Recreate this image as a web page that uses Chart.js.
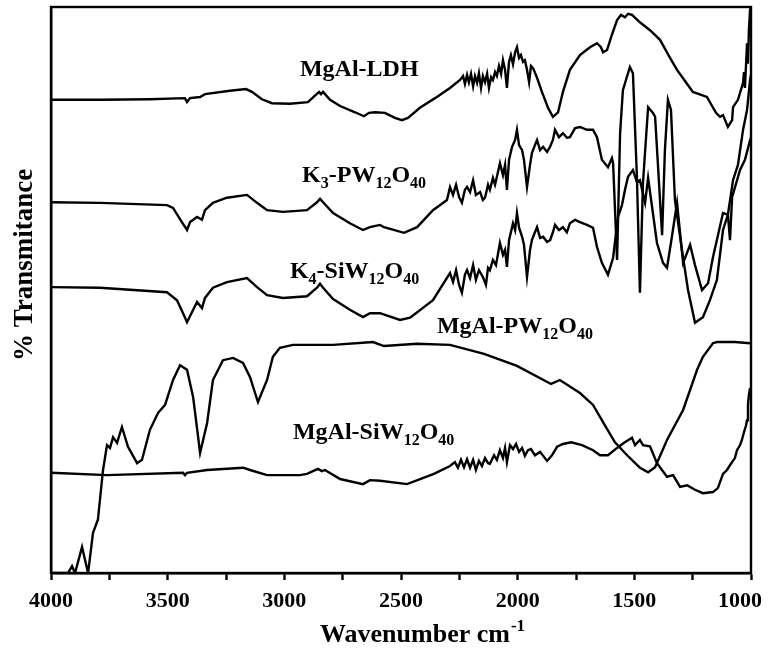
<!DOCTYPE html>
<html>
<head>
<meta charset="utf-8">
<script src="https://cdn.jsdelivr.net/npm/chart.js@4.4.0/dist/chart.umd.min.js"></script>
<style>
  html, body { margin: 0; padding: 0; background: #fff; }
  #wrap { width: 768px; height: 648px; }
</style>
</head>
<body>
<div id="wrap"><canvas id="ftir"></canvas></div>
<script>
// wavenumbers (cm-1) and transmittance (arbitrary units)
const ldhWave = [4000,3790,3576,3426,3417,3404,3361,3340,3233,3164,3139,3096,3053,2976,2899,2864,2851,2843,2834,2804,2761,2697,2659,2637,2611,2569,2526,2496,2470,2419,2354,2290,2269,2247,2234,2226,2217,2209,2200,2191,2183,2174,2166,2157,2149,2140,2131,2123,2114,2106,2097,2089,2080,2071,2063,2054,2046,2037,2029,2020,2011,2003,1994,1986,1977,1969,1960,1951,1943,1934,1917,1896,1870,1849,1827,1806,1776,1733,1690,1660,1643,1634,1617,1596,1574,1557,1540,1527,1510,1476,1433,1390,1347,1317,1279,1249,1189,1150,1133,1120,1099,1081,1077,1056,1034,1030,1026,1017,1013,1009,1004,1000];
const ldhT    = [83.6,83.6,83.7,83.9,83.2,83.9,84.1,84.6,85.2,85.5,85.0,83.7,83.0,82.9,83.2,84.5,85.0,84.6,85.0,83.6,82.5,81.4,80.7,81.3,81.4,81.3,80.4,80.0,80.4,82.2,83.9,85.7,86.4,87.1,87.8,86.4,88.0,86.7,88.2,86.0,87.8,86.6,88.3,85.7,87.8,86.7,88.2,85.7,87.6,87.1,88.5,87.8,89.6,88.2,90.6,88.9,85.7,90.3,91.5,89.9,92.0,92.9,91.0,91.5,90.3,90.6,88.9,86.7,89.6,89.2,87.5,85.0,82.2,80.6,81.4,85.0,88.9,91.5,92.9,93.6,92.9,92.0,92.4,95.1,97.7,98.6,98.2,98.8,98.6,97.3,95.9,94.2,91.0,88.9,86.7,85.0,84.1,81.3,80.6,80.9,78.8,80.0,82.3,83.6,86.6,88.5,85.7,93.6,90.0,95.9,99.5,100];

const k3Wave = [4000,3790,3503,3477,3439,3417,3404,3374,3353,3340,3306,3246,3160,3117,3074,3006,2903,2860,2847,2834,2791,2719,2663,2633,2590,2573,2487,2431,2363,2303,2290,2277,2264,2251,2239,2226,2217,2204,2191,2179,2161,2149,2140,2127,2119,2106,2097,2089,2076,2063,2054,2046,2037,2024,2011,2003,1994,1981,1973,1960,1947,1939,1926,1917,1904,1891,1874,1861,1849,1840,1823,1806,1789,1776,1754,1733,1703,1677,1660,1639,1613,1596,1591,1574,1561,1549,1519,1506,1489,1476,1463,1441,1420,1411,1381,1369,1356,1343,1326,1296,1270,1240,1206,1176,1146,1120,1099,1077,1056,1034,1017,1004,1000];
const k3T    = [65.5,65.4,65.0,64.5,62.0,60.6,62.0,62.9,62.4,64.1,65.4,66.3,66.8,65.4,64.1,63.8,64.1,65.5,66.1,65.5,63.6,61.8,60.6,61.1,61.5,61.1,60.1,61.1,64.1,65.9,68.2,66.8,68.6,66.4,65.4,67.7,68.2,67.3,69.4,66.8,67.3,65.9,66.3,68.6,67.7,69.8,68.6,70.0,72.4,70.3,72.1,67.7,73.0,75.3,76.5,78.3,75.6,74.7,73.0,68.2,72.1,74.2,75.6,76.5,74.7,75.3,74.4,75.3,76.5,78.3,77.0,77.7,76.9,77.0,78.6,78.8,78.3,78.3,77.0,73.0,71.7,73.3,72.4,55.3,77.7,85.3,89.4,88.3,70.0,49.5,68.9,82.3,81.3,80.6,59.7,74.7,83.6,81.8,65.9,57.1,50.0,44.2,45.2,48.2,51.8,60.6,63.3,69.4,72.1,78.3,81.8,87.1,88.0];

const k4Wave = [4000,3790,3503,3460,3434,3417,3404,3374,3353,3340,3306,3246,3160,3117,3074,3006,2903,2860,2847,2834,2791,2719,2663,2633,2590,2504,2461,2363,2290,2277,2264,2251,2239,2226,2217,2204,2191,2179,2166,2149,2136,2127,2119,2106,2093,2076,2063,2054,2046,2037,2020,2011,2003,1994,1981,1973,1960,1947,1939,1926,1917,1904,1891,1874,1861,1849,1840,1823,1806,1789,1776,1754,1733,1703,1677,1660,1639,1613,1591,1570,1553,1540,1527,1506,1489,1476,1454,1441,1424,1403,1377,1360,1339,1317,1291,1261,1240,1210,1184,1163,1120,1099,1090,1081,1047,1026,1004,1000];
const k4T    = [50.5,50.4,49.6,48.2,45.9,44.3,45.4,47.9,46.8,48.6,50.4,51.4,52.1,50.5,49.1,48.6,48.9,50.4,51.1,50.4,48.4,46.5,45.2,45.9,45.9,44.7,45.1,48.2,53.0,51.4,53.5,50.9,49.5,52.7,53.5,52.1,54.4,51.8,53.5,52.3,50.9,53.9,53.5,55.3,54.4,58.3,56.2,57.1,54.1,58.8,61.8,60.6,63.6,61.0,59.4,58.0,52.3,57.1,58.8,60.2,61.1,59.2,59.4,58.5,58.8,60.2,61.5,60.6,61.1,60.2,61.8,62.4,62.0,61.5,61.0,57.6,54.8,52.7,55.7,62.9,65.0,67.7,70.0,71.2,69.1,69.4,65.4,69.8,64.7,58.3,54.8,53.9,59.4,65.4,54.8,58.0,54.4,50.0,51.2,55.8,63.6,63.3,58.8,66.4,71.2,73.0,76.5,76.9];

const pwWave = [4000,3927,3910,3897,3867,3841,3820,3799,3777,3760,3747,3734,3717,3696,3670,3631,3610,3576,3541,3511,3477,3447,3417,3391,3361,3331,3306,3263,3220,3177,3147,3113,3074,3049,3019,2963,2791,2620,2573,2431,2290,2144,2003,1857,1819,1733,1677,1626,1583,1531,1476,1441,1411,1360,1291,1231,1206,1163,1146,1069,1004,1000];
const pwT    = [0,0,1.2,0,4.6,0,7.1,9.4,18.2,22.6,22.1,24.0,23.0,25.8,22.3,19.4,20.0,25.3,28.3,29.7,34.1,36.7,35.9,31.1,21.2,26.5,34.1,37.6,38.0,37.1,34.6,30.2,34.1,38.2,39.8,40.3,40.3,40.8,40.1,40.5,40.3,38.7,36.6,33.4,34.1,31.8,29.7,26.1,23.1,20.8,18.6,17.8,18.7,23.5,28.8,35.9,38.2,40.6,40.8,40.8,40.6,40.6];

const siwWave = [4000,3760,3434,3426,3417,3331,3177,3147,3074,2933,2903,2856,2839,2826,2761,2663,2633,2590,2474,2359,2290,2269,2256,2243,2230,2217,2204,2191,2179,2166,2153,2140,2127,2119,2101,2089,2076,2063,2054,2046,2033,2020,2007,1994,1981,1969,1956,1943,1926,1904,1874,1853,1831,1806,1771,1724,1677,1647,1613,1574,1544,1510,1497,1476,1463,1433,1403,1360,1334,1304,1274,1240,1206,1163,1142,1120,1103,1086,1069,1060,1047,1039,1030,1021,1017,1013,1009,1004];
const siwT    = [17.7,17.3,17.7,17.3,17.7,18.2,18.6,18.2,17.3,17.3,17.5,18.4,18.0,18.2,16.6,15.7,16.4,16.3,15.7,17.5,18.9,19.6,18.6,20.0,18.7,20.1,18.6,20.0,18.2,19.8,18.9,20.3,19.4,19.3,20.8,20.0,21.7,20.3,22.1,19.6,22.6,21.9,22.8,21.4,22.1,20.7,21.7,21.9,20.8,21.4,19.8,20.8,22.3,22.8,23.1,22.6,21.7,20.8,20.8,22.1,23.0,23.9,22.6,23.5,22.6,22.4,19.4,17.0,17.3,15.2,15.5,14.7,14.1,14.3,15.0,17.5,18.2,19.3,20.3,21.7,22.6,23.5,24.9,26.1,27.0,29.7,31.4,32.7];

const xTicks = [4000, 3500, 3000, 2500, 2000, 1500, 1000];

function pts(w, t) { return w.map((x, i) => ({ x: x, y: t[i] })); }

const serif = '"Liberation Serif", "Times New Roman", serif';

function line(label, w, t) {
  return {
    label: label,
    data: pts(w, t),
    borderColor: '#000',
    borderWidth: 2.4,
    pointRadius: 0,
    tension: 0,
    fill: false
  };
}

// curve names with subscripts: [text, isSub]
const curveLabels = [
  { at: [2933, 87.8], parts: [['MgAl-LDH', 0]] },
  { at: [2924, 69.1], parts: [['K', 0], ['3', 1], ['-PW', 0], ['12', 1], ['O', 0], ['40', 1]] },
  { at: [2976, 52.1], parts: [['K', 0], ['4', 1], ['-SiW', 0], ['12', 1], ['O', 0], ['40', 1]] },
  { at: [2346, 42.4], parts: [['MgAl-PW', 0], ['12', 1], ['O', 0], ['40', 1]] },
  { at: [2963, 23.7], parts: [['MgAl-SiW', 0], ['12', 1], ['O', 0], ['40', 1]] }
];

const decor = {
  id: 'decor',
  afterDraw(chart) {
    const ctx = chart.ctx;
    const a = chart.chartArea;
    const xs = chart.scales.x, ys = chart.scales.y;
    ctx.save();
    ctx.strokeStyle = '#000';
    ctx.lineWidth = 2.4;
    ctx.strokeRect(a.left, a.top, a.right - a.left, a.bottom - a.top);

    ctx.fillStyle = '#000';
    ctx.textBaseline = 'alphabetic';
    ctx.textAlign = 'left';
    curveLabels.forEach(l => {
      let px = xs.getPixelForValue(l.at[0]);
      const py = ys.getPixelForValue(l.at[1]);
      l.parts.forEach(p => {
        ctx.font = p[1] ? 'bold 16px ' + serif : 'bold 24px ' + serif;
        ctx.fillText(p[0], px, p[1] ? py + 6 : py);
        px += ctx.measureText(p[0]).width;
      });
    });

    // axis titles
    ctx.font = 'bold 26px ' + serif;
    const t1 = 'Wavenumber cm';
    const tx = a.left + 269;
    const ty = a.bottom + 69;
    ctx.fillText(t1, tx, ty);
    const tw = ctx.measureText(t1).width;
    ctx.font = 'bold 17px ' + serif;
    ctx.fillText('-1', tx + tw + 1, ty - 11);

    ctx.translate(a.left - 19, a.bottom - 212);
    ctx.rotate(-Math.PI / 2);
    ctx.font = 'bold 27px ' + serif;
    ctx.fillText('% Transmitance', 0, 0);
    ctx.restore();
  }
};

new Chart(document.getElementById('ftir'), {
  type: 'line',
  data: {
    datasets: [
      line('MgAl-LDH', ldhWave, ldhT),
      line('K3-PW12O40', k3Wave, k3T),
      line('K4-SiW12O40', k4Wave, k4T),
      line('MgAl-PW12O40', pwWave, pwT),
      line('MgAl-SiW12O40', siwWave, siwT)
    ]
  },
  options: {
    responsive: true,
    maintainAspectRatio: false,
    animation: false,
    layout: { padding: { top: 7, right: 17, left: 0, bottom: 0 } },
    plugins: { legend: { display: false }, tooltip: { enabled: false } },
    scales: {
      x: {
        type: 'linear',
        reverse: true,
        min: 1000,
        max: 4000,
        afterFit(s) { s.height = 75; s.paddingLeft = 0; s.paddingRight = 0; },
        afterBuildTicks(s) {
          const t = [];
          for (let v = 4000; v >= 1000; v -= 250) t.push({ value: v });
          s.ticks = t;
        },
        ticks: {
          autoSkip: false,
          maxRotation: 0,
          padding: 8,
          color: '#000',
          font: { family: serif, size: 22, weight: 'bold' },
          // last label is nudged left so it stays inside the canvas
          callback: v => (v === 1000 ? '1000\u2007\u2007' : xTicks.includes(v) ? String(v) : '')
        },
        grid: {
          display: true,
          drawOnChartArea: false,
          drawTicks: true,
          tickLength: 7,
          tickWidth: 2.4,
          tickColor: '#000'
        },
        border: { display: true, color: '#000', width: 2.4 }
      },
      y: {
        min: 0,
        max: 100,
        afterFit(s) { s.width = 51; },
        ticks: { display: false },
        grid: { display: false },
        border: { display: true, color: '#000', width: 2.4 }
      }
    }
  },
  plugins: [decor]
});
</script>
</body>
</html>
